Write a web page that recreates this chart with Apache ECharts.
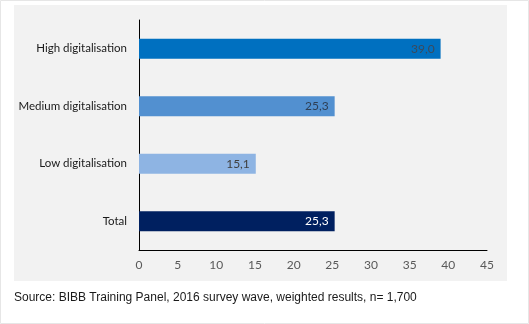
<!DOCTYPE html>
<html><head><meta charset="utf-8">
<script src="https://cdn.jsdelivr.net/npm/echarts@6/dist/echarts.min.js"></script>
<style>html,body{margin:0;padding:0;background:#fff}#c{width:529px;height:324px}</style>
</head><body><div id="c"></div>
<script>
var categories = ["High digitalisation", "Medium digitalisation", "Low digitalisation", "Total"];
var values = [39.0, 25.3, 15.1, 25.3];
var barColors = ["#0070C0", "#5290D0", "#8EB4E3", "#002060"];
var labelColors = ["#3A4A5C", "#2E3F55", "#404040", "#FFFFFF"];
var xTicks = [0, 5, 10, 15, 20, 25, 30, 35, 40, 45];
var sourceText = "Source: BIBB Training Panel, 2016 survey wave, weighted results, n= 1,700";

var chart = echarts.init(document.getElementById('c'), null, {renderer: 'canvas'});
var data = values.map(function (v, i) {
  return {
    value: v,
    itemStyle: {color: barColors[i]},
    label: {color: labelColors[i]}
  };
}).reverse();
chart.setOption({
  animation: false,
  backgroundColor: '#ffffff',
  graphic: [
    {type: 'rect', z: -10, shape: {x: 0.5, y: 0.5, width: 528, height: 323}, style: {fill: '#ffffff', stroke: '#E6E6E6', lineWidth: 1}},
    {type: 'rect', z: -5, shape: {x: 14, y: 5, width: 493, height: 276}, style: {fill: '#F2F2F2'}},
    {type: 'text', left: 14, top: 292, style: {text: sourceText, font: '12px "Liberation Sans", Arial, sans-serif', fill: '#1a1a1a'}}
  ],
  grid: {left: 139, right: 42, top: 20, bottom: 74, containLabel: false},
  xAxis: {
    type: 'value', min: xTicks[0], max: xTicks[xTicks.length - 1], interval: 5,
    axisLine: {show: true, lineStyle: {color: '#000', width: 1}},
    axisTick: {show: false},
    splitLine: {show: false},
    axisLabel: {color: '#595959', fontSize: 12, margin: 9, fontFamily: 'Lato, sans-serif'}
  },
  yAxis: {
    type: 'category', data: categories.slice().reverse(),
    axisLine: {show: true, lineStyle: {color: '#000', width: 1}},
    axisTick: {show: false},
    axisLabel: {color: '#1a1a1a', fontSize: 11.5, margin: 12, fontFamily: 'Lato, sans-serif'}
  },
  series: [{
    type: 'bar', data: data, barWidth: 20,
    label: {
      show: true, position: 'insideRight', distance: 6, fontSize: 12,
      fontFamily: 'Lato, sans-serif',
      formatter: function (p) { return p.value.toFixed(1).replace('.', ','); }
    }
  }]
});
</script></body></html>
